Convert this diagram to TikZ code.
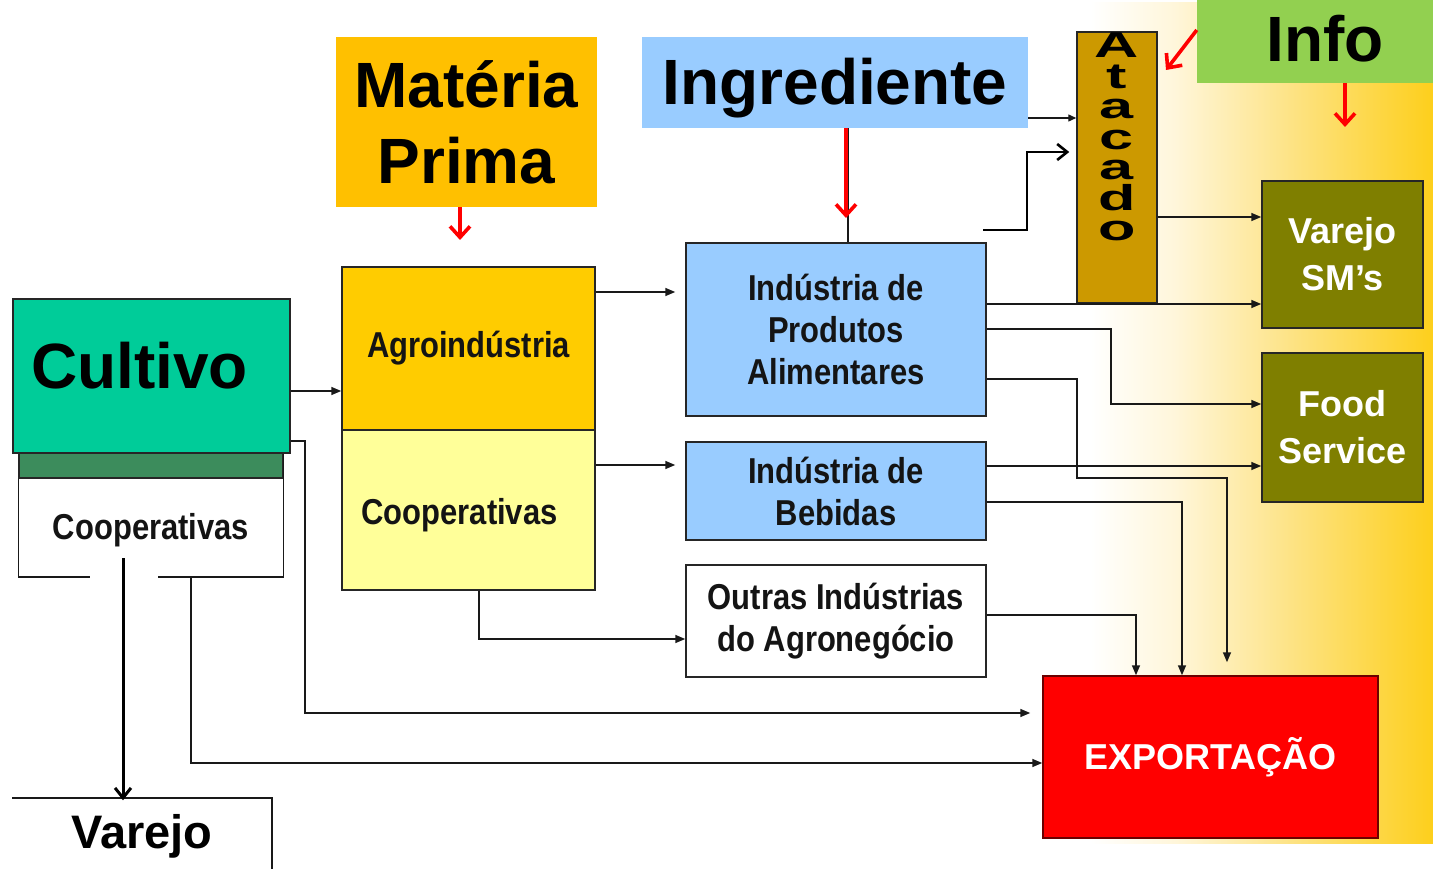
\documentclass[tikz,border=0pt]{standalone}
\usepackage{fontspec}
\setmainfont{Liberation Sans}
\usetikzlibrary{arrows.meta,calc}
\newcommand\cnd[1]{\scalebox{0.86}[1]{#1}}
\definecolor{cMP}{HTML}{FFC000}
\definecolor{cIng}{HTML}{99CCFF}
\definecolor{cInfo}{HTML}{92D050}
\definecolor{cCult}{HTML}{00CC99}
\definecolor{cBand}{HTML}{3C8C5C}
\definecolor{cAgro}{HTML}{FFCC00}
\definecolor{cCoop}{HTML}{FFFF99}
\definecolor{cBlue}{HTML}{99CCFF}
\definecolor{cAtac}{HTML}{CC9900}
\definecolor{cOlive}{HTML}{7F7F00}
\definecolor{cExpB}{HTML}{6B0000}
\definecolor{gA}{HTML}{FFF6DA}
\definecolor{gB}{HTML}{FDE385}
\definecolor{gC}{HTML}{FDCF1C}
\definecolor{txt}{HTML}{141414}
\begin{document}
\begin{tikzpicture}[x=1pt,y=-1pt,
 box/.style={draw=black!85, line width=1.5pt, inner sep=0pt, align=center},
 conn/.style={draw=black!90, line width=1.6pt, -{Triangle[length=10pt,width=8pt]}},
 plainline/.style={draw=black!90, line width=1.6pt},
 thk/.style={draw=black, line width=3pt, -{Straight Barb[length=10pt,width=16pt]}},
 redarr/.style={draw=red, line width=3.6pt, -{Straight Barb[length=11pt,width=20pt]}},
 mtxt/.style={font=\bfseries\fontsize{36}{42}\selectfont, text=txt},
 wtxt/.style={font=\bfseries\fontsize{36}{47}\selectfont, text=white},
 big/.style={font=\bfseries\fontsize{64}{76}\selectfont}
]
\useasboundingbox (0,0) rectangle (1433,869);
\fill[white] (0,0) rectangle (1433,869);
% background gradient
\shade[left color=white,right color=gA] (1090,3) rectangle (1176,843);
\shade[left color=gA,right color=gB] (1175,3) rectangle (1291,843);
\shade[left color=gB,right color=gC] (1290,3) rectangle (1433,843);

% header boxes
\node[fill=cMP, inner sep=0pt, minimum width=261pt, minimum height=170pt, big, align=center] (mp) at (466.5,122) {Matéria\\Prima};
\node[fill=cIng, inner sep=0pt, minimum width=386pt, minimum height=91pt, label={[big, yshift=-6pt]center:Ingrediente}] (ing) at (835,82.5) {};
\node[fill=cInfo, inner sep=0pt, minimum width=236pt, minimum height=83pt, label={[big, xshift=10pt, yshift=3pt]center:Info}] (info) at (1315,41.5) {};

% left column
\node[draw=black!85, line width=1.2pt, fill=cBand, minimum width=264pt, minimum height=25pt, inner sep=0pt] (band) at (151,465.5) {};
\node[inner sep=0pt, minimum width=264pt, minimum height=99pt, mtxt] (cool) at (151,530) {\cnd{Cooperativas}};
\draw[plainline] (band.south west) -- (band.south west |- 0,577) -- (90,577);
\draw[plainline] (158,577) -- (band.south east |- 0,577) -- (band.north east);
\node[box, fill=cCult, minimum width=277pt, minimum height=154pt, label={[font=\bfseries\fontsize{64}{64}\selectfont, xshift=-12pt, yshift=10pt]center:Cultivo}] (cult) at (151.5,376) {};
\node[inner sep=0pt, minimum width=260pt, minimum height=71pt, font=\bfseries\fontsize{47}{47}\selectfont] (var) at (142,836) {Varejo};
\draw[plainline] (12,798) -- (272,798) -- (272,869);

% processing
\node[box, fill=cAgro, minimum width=253pt, minimum height=163pt, mtxt] (agro) at (468.5,348.5) {\cnd{Agroindústria}};
\node[box, fill=cCoop, minimum width=253pt, minimum height=160pt, label={[mtxt, xshift=-9pt, yshift=-5pt]center:\cnd{Cooperativas}}] (coop) at (468.5,510) {};

% industries
\node[box, fill=cBlue, minimum width=300pt, minimum height=173pt, mtxt] (alim) at (836,329.5) {\cnd{Indústria de}\\\cnd{Produtos}\\\cnd{Alimentares}};
\node[box, fill=cBlue, minimum width=300pt, minimum height=98pt, mtxt] (beb) at (836,491) {\cnd{Indústria de}\\\cnd{Bebidas}};
\node[box, fill=white, minimum width=300pt, minimum height=112pt, mtxt] (outras) at (836,621) {\cnd{Outras Indústrias}\\\cnd{do Agronegócio}};

% atacado
\node[box, fill=cAtac, minimum width=80pt, minimum height=271pt] (atac) at (1117,167.5) {};
\node[inner sep=0pt] (atxt) at (1117,137) {\scalebox{1.7}[1]{\begin{minipage}{30pt}\centering\bfseries\fontsize{36}{30.5}\selectfont A\\t\\a\\c\\a\\d\\o\end{minipage}}};

% destinations
\node[box, fill=cOlive, minimum width=161pt, minimum height=147pt, wtxt] (vsm) at (1342.5,254.5) {Varejo\\SM’s};
\node[box, fill=cOlive, minimum width=161pt, minimum height=149pt, wtxt] (food) at (1342.5,427.5) {Food\\Service};
\node[box, draw=cExpB, fill=red, minimum width=335pt, minimum height=162pt, wtxt] (exp) at (1210.5,757) {EXPORTAÇÃO};

% connectors
\draw[conn] (cult.east |- 0,391) -- (agro.west |- 0,391);
\draw[conn, shorten >=10pt] (agro.east |- 0,292) -- (alim.west |- 0,292);
\draw[conn, shorten >=10pt] (coop.east |- 0,465) -- (beb.west |- 0,465);
\draw[conn] (coop.south -| 479,0) |- (outras.west |- 0,639);
\draw[conn, shorten >=12pt] (cult.east |- 0,441) -- (305,441) |- (exp.west |- 0,713);
\draw[conn] (191,577) |- (exp.west |- 0,763);
\coordinate (vs) at (123,558);
\draw[thk] (vs) -- (var.north -| vs);
\draw[plainline] (ing.south -| 848,0) -- (alim.north -| 848,0);
\draw[redarr] (ing.south -| 846,0) -- (846,218);
\draw[redarr] (mp.south -| 460,0) -- (460,240);
\draw[draw=black!90, line width=1.4pt, -{Triangle[length=8pt,width=7pt]}] (ing.east |- 0,118) -- (atac.west |- 0,118);
\coordinate (st) at (983,230);
\draw[thk, line width=2.6pt] (st) -- (1027,230) |- ([xshift=-7pt]atac.west |- 0,152);
\draw[conn] (atac.east |- 0,217) -- (vsm.west |- 0,217);
\draw[conn] (alim.east |- 0,304) -- (vsm.west |- 0,304);
\draw[conn] (alim.east |- 0,329) -- (1111,329) |- (food.west |- 0,404);
\draw[conn, shorten >=13pt] (alim.east |- 0,379) -- (1077,379) -- (1077,478) -| (exp.north -| 1227,0);
\draw[conn] (beb.east |- 0,466) -- (food.west |- 0,466);
\draw[conn] (beb.east |- 0,502) -| (exp.north -| 1182,0);
\draw[conn] (outras.east |- 0,615) -| (exp.north -| 1136,0);
\draw[redarr] (info.west |- 0,30) -- (1166,70);
\draw[redarr] (info.south -| 1345,0) -- (1345,127);
\end{tikzpicture}
\end{document}
